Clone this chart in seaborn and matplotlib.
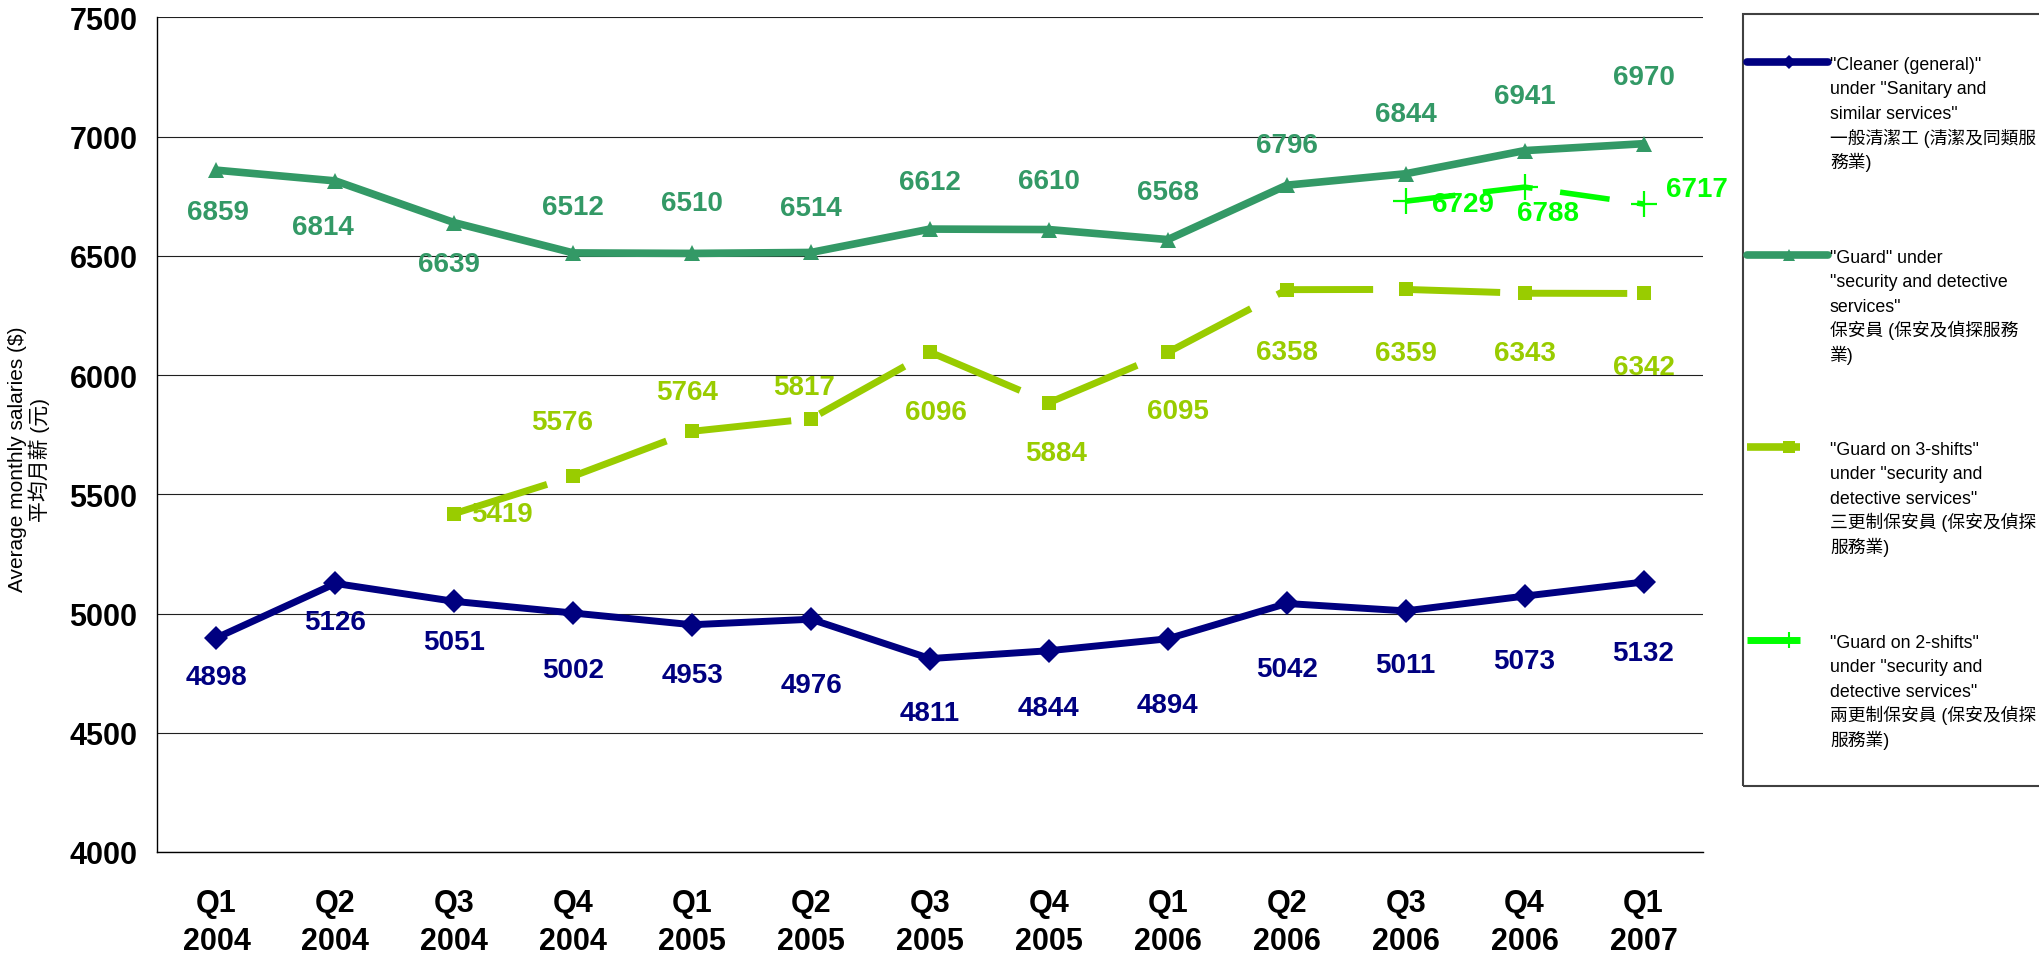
import numpy as np
import pandas as pd
import matplotlib
matplotlib.use("Agg")
import matplotlib.pyplot as plt
from matplotlib.lines import Line2D
from matplotlib.patches import Rectangle
import seaborn as sns

# ---------------- data ----------------
quarters = ["Q1\n2004", "Q2\n2004", "Q3\n2004", "Q4\n2004", "Q1\n2005", "Q2\n2005",
            "Q3\n2005", "Q4\n2005", "Q1\n2006", "Q2\n2006", "Q3\n2006", "Q4\n2006",
            "Q1\n2007"]
cleaner = [4898, 5126, 5051, 5002, 4953, 4976, 4811, 4844, 4894, 5042, 5011, 5073, 5132]
guard = [6859, 6814, 6639, 6512, 6510, 6514, 6612, 6610, 6568, 6796, 6844, 6941, 6970]
guard_3shift = [np.nan, np.nan, 5419, 5576, 5764, 5817, 6096, 5884, 6095, 6358, 6359, 6343, 6342]
guard_2shift = [np.nan] * 10 + [6729, 6788, 6717]

yticks = [4000, 4500, 5000, 5500, 6000, 6500, 7000, 7500]
ylabel_text = "Average monthly salaries ($)\n平均月薪 (元)"
legend_labels = [
    ['"Cleaner (general)"', 'under "Sanitary and', 'similar services"', '一般清潔工 (清潔及同類服', '務業)'],
    ['"Guard" under', '"security and detective', 'services"', '保安員 (保安及偵探服務', '業)'],
    ['"Guard on 3-shifts"', 'under "security and', 'detective services"', '三更制保安員 (保安及偵探', '服務業)'],
    ['"Guard on 2-shifts"', 'under "security and', 'detective services"', '兩更制保安員 (保安及偵探', '服務業)'],
]

# ---------------- label offsets (points) ----------------
off_cleaner = [(0, -28), (0, -28), (0, -29), (0, -41), (0, -36), (0, -47), (0, -39),
               (0, -41), (0, -48), (0, -47), (0, -39), (0, -47), (0, -51)]
off_guard = [(1, -30), (-9, -33), (-4, -30), (0, 33), (0, 36), (0, 32), (0, 34),
             (0, 35), (0, 34), (0, 29), (0, 43), (0, 39), (0, 48)]
off_3 = [None, None, (12, 0), (-8, 39), (-4, 28), (-5, 23), (4, -43), (5, -36),
         (7, -42), (0, -45), (0, -46), (0, -43), (0, -53)]
off_2 = [None] * 10 + [(19, -2), (17, -19), (16, 11)]
ha_3 = ["center"] * 13
ha_3[2] = "left"
ha_2 = ["center"] * 13
ha_2[10] = "left"
ha_2[12] = "left"

# ---------------- style ----------------
C_CLEAN = "#000080"
C_GUARD = "#339966"
C_G3 = "#99CC00"
C_G2 = "#00FF00"

sns.set_style("white")
plt.rcParams["font.family"] = ["Liberation Sans", "Noto Sans CJK TC", "DejaVu Sans"]
plt.rcParams["text.color"] = "black"
plt.rcParams["axes.labelcolor"] = "black"
plt.rcParams["xtick.color"] = "black"
plt.rcParams["ytick.color"] = "black"

W, H = 2039, 954
fig = plt.figure(figsize=(W / 100, H / 100), dpi=100)
ax_l, ax_r, ax_t, ax_b = 157, 1703, 18.3, 853
ax = fig.add_axes([ax_l / W, 1 - ax_b / H, (ax_r - ax_l) / W, (ax_b - ax_t) / H])

x = np.arange(len(quarters))
df = pd.DataFrame({"x": x, "cleaner": cleaner, "guard": guard,
                   "g3": guard_3shift, "g2": guard_2shift})

sns.lineplot(data=df, x="x", y="cleaner", ax=ax, color=C_CLEAN, lw=5.0,
             marker="D", ms=12, mec=C_CLEAN, mew=0, zorder=5)
sns.lineplot(data=df, x="x", y="guard", ax=ax, color=C_GUARD, lw=5.5,
             marker="^", ms=11, mec=C_GUARD, mew=0, zorder=5)
sns.lineplot(data=df.dropna(subset=["g3"]), x="x", y="g3", ax=ax, color=C_G3, lw=5.0,
             marker="s", ms=10, mec=C_G3, mew=0, linestyle=(0, (14, 4.3)), zorder=4)
sns.lineplot(data=df.dropna(subset=["g2"]), x="x", y="g2", ax=ax, color=C_G2, lw=4.0,
             marker="+", ms=19, mec=C_G2, mew=1.6, linestyle=(0, (9, 5)), zorder=6)

lab_font = dict(fontsize=20, fontweight="bold", family=["Liberation Sans", "DejaVu Sans"])


def put_labels(vals, offs, color, has=None):
    for i, v in enumerate(vals):
        if offs[i] is None or v is None or (isinstance(v, float) and np.isnan(v)):
            continue
        ha = has[i] if has is not None else "center"
        ax.annotate(f"{int(v)}", (x[i], v), xytext=offs[i], textcoords="offset points",
                    ha=ha, va="center", color=color, zorder=10, **lab_font)


put_labels(cleaner, off_cleaner, C_CLEAN)
put_labels(guard, off_guard, C_GUARD)
put_labels(guard_3shift, off_3, C_G3, ha_3)
put_labels(guard_2shift, off_2, C_G2, ha_2)

# axes
ax.set_xlim(-0.5, len(quarters) - 0.5)
ax.set_ylim(4000, 7500)
ax.set_yticks(yticks)
ax.set_yticklabels([str(t) for t in yticks], fontsize=22, fontweight="bold", color="black")
ax.set_xticks(x)
ax.set_xticklabels(quarters, fontsize=22, fontweight="bold", linespacing=1.36, color="black")
ax.set_xticks(np.arange(0.5, len(quarters) - 0.5, 1.0), minor=True)
ax.tick_params(axis="x", which="major", length=0, pad=26)
ax.tick_params(axis="x", which="minor", length=6, width=1.0, direction="in", color="black")
ax.tick_params(axis="y", which="major", length=0, pad=14)
ax.set_xlabel("")
ax.grid(axis="y", color="#202020", lw=0.8)
ax.grid(axis="x", visible=False)
ax.set_axisbelow(True)
for s in ["top", "right"]:
    ax.spines[s].set_visible(False)
for s in ["left", "bottom"]:
    ax.spines[s].set_color("black")
    ax.spines[s].set_linewidth(1.0)

# y label
ax.set_ylabel(ylabel_text, fontsize=15, linespacing=1.05, color="black")
ax.yaxis.set_label_coords((50 - ax_l) / (ax_r - ax_l), (ax_b - 459.5) / (ax_b - ax_t))


# ---------------- legend (drawn in figure pixel space) ----------------
def fx(px):
    return px / W


def fy(py):
    return 1 - py / H


fig.add_artist(Rectangle((fx(1743), fy(787)), fx(2060) - fx(1743), fy(15) - fy(787),
                         transform=fig.transFigure, fill=False, edgecolor="#404040",
                         lw=1.5, zorder=1))
handles = [
    dict(color=C_CLEAN, lw=5.5, marker="D", ms=7, x1=1828),
    dict(color=C_GUARD, lw=5.5, marker="^", ms=8, x1=1828),
    dict(color=C_G3, lw=5.5, marker="s", ms=9, x1=1800),
    dict(color=C_G2, lw=5.0, marker="+", ms=12, x1=1800),
]
first_baselines = [70, 263, 455, 648]
pitch = 24.5
for k, (hd, lines) in enumerate(zip(handles, legend_labels)):
    yc = first_baselines[k] - 7
    fig.add_artist(Line2D([fx(1747), fx(hd["x1"])], [fy(yc), fy(yc)], transform=fig.transFigure,
                          color=hd["color"], lw=hd["lw"], solid_capstyle="round" if k < 2 else "butt"))
    fig.add_artist(Line2D([fx(1789)], [fy(yc)], transform=fig.transFigure, color=hd["color"],
                          marker=hd["marker"], ms=hd["ms"], mec=hd["color"], mfc=hd["color"],
                          mew=1.5 if hd["marker"] == "+" else 0, lw=0))
    for j, line in enumerate(lines):
        fig.text(fx(1830), fy(first_baselines[k] + j * pitch), line, fontsize=12.8,
                 ha="left", va="baseline", color="black")

fig.savefig("out.png", dpi=100)
